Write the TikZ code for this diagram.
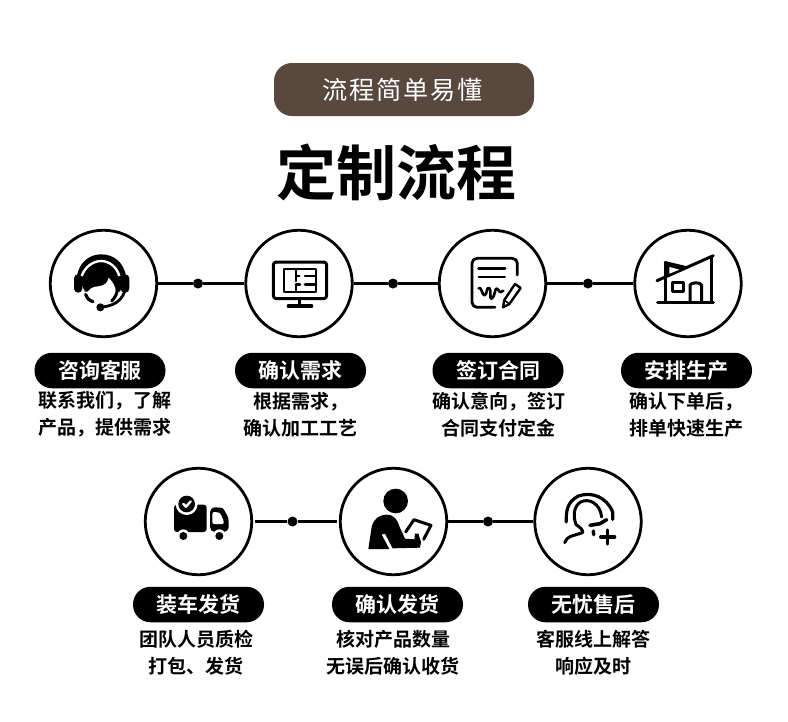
\documentclass[tikz,border=0pt]{standalone}
\usepackage{fontspec}
\newfontfamily\cjktitle{Noto Sans CJK SC Bold}
\newfontfamily\cjktop[LetterSpace=7]{Noto Sans CJK SC}
\newfontfamily\cjkbold{Noto Sans CJK SC Bold}
\tikzset{
  stepcircle/.style={circle,draw=black,line width=2.8pt,fill=white,minimum size=106.5pt,inner sep=0pt},
  linkdot/.style={circle,fill=black,minimum size=10pt,inner sep=0pt},
  linkline/.style={draw=black,line width=2.4pt},
  tagpill/.style={fill=black,text=white,rounded corners=17.5pt,minimum width=131pt,minimum height=35.5pt,inner sep=0pt,font=\cjkbold\fontsize{21}{21}\selectfont},
  bodytext/.style={text=black,align=center,inner sep=0pt,font=\cjkbold\fontsize{19}{27}\selectfont},
  iconz/.style={x=0.33333pt,y=-0.33333pt},
  ln/.style={draw=black,line cap=round,line join=round},
}
\begin{document}
\begin{tikzpicture}[x=1pt,y=-1pt]
\path[use as bounding box,fill=white] (0,0) rectangle (788,721);
% header
\node[fill={rgb,255:red,88;green,72;blue,62},rounded corners=18pt,minimum width=260pt,minimum height=53pt,inner sep=0pt,text=white,font=\cjktop\fontsize{25.2}{25}\selectfont] (hdr) at (404,89.5) {\hspace*{-3pt}流程简单易懂};
\node[inner sep=0pt,text=black,font=\cjktitle\fontsize{60}{60}\selectfont] (ttl) at (396.5,172) {定制流程};
% circles
\foreach \n/\x in {c1/103.5,c2/299,c3/492.5,c4/688} \node[stepcircle] (\n) at (\x,283.5) {};
\foreach \n/\x in {c5/198.5,c6/393.5,c7/588} \node[stepcircle] (\n) at (\x,521.5) {};
\foreach \n/\x/\y in {d1/198/283.5,d2/393/283.5,d3/588/283.5,d5/292.5/521.5,d6/488/521.5} \node[linkdot] (\n) at (\x,\y) {};
\draw[linkline] (c1) -- (d1) -- (c2) (c2) -- (d2) -- (c3) (c3) -- (d3) -- (c4) (d6) -- (c7);
\draw[linkline,shorten <=2pt] (c5) -- (d5);
\draw[linkline,shorten >=2pt] (d5) -- (c6);
\draw[linkline] (c6) -- (d6);
% tags
\foreach \n/\x/\y/\t in {t1/100/370.5/咨询客服,t2/300.5/370.5/确认需求,t3/498/370.5/签订合同,t4/686.5/370.5/安排生产,t5/198.5/604.5/装车发货,t6/397.5/604.5/确认发货,t7/593.5/604.5/无忧售后}
  \node[tagpill] (\n) at (\x,\y) {\t};
% body
\node[bodytext] (b1) at (104.5,414.5) {联系我们，了解\\产品，提供需求};
\node[bodytext] (b2) at (300.5,414.5) {根据需求，\\确认加工工艺};
\node[bodytext] (b3) at (498.5,414.5) {确认意向，签订\\合同支付定金};
\node[bodytext] (b4) at (686,414.5) {确认下单后，\\排单快速生产};
\node[bodytext] (b5) at (196,652.5) {团队人员质检\\打包、发货};
\node[bodytext] (b6) at (393,652.5) {核对产品数量\\无误后确认收货};
\node[bodytext] (b7) at (593,652.5) {客服线上解答\\响应及时};
% icon 1 headset
\begin{scope}[shift={(65,245)},iconz]
  \fill[black] (36,92) .. controls (43,52) and (73,28) .. (108,28) .. controls (147,28) and (175,52) .. (183,92) -- (165,140) -- (60,140) -- cycle;
  \fill[black,rounded corners=4pt] (27,88) rectangle (52,143);
  \fill[black,rounded corners=4pt] (167,88) rectangle (193,143);
  \draw[white,line width=2.4pt] (50,93) .. controls (60,65) and (85,48) .. (108,48) .. controls (132,48) and (155,65) .. (163,93);
  \fill[white] (64,152) .. controls (68,132) and (84,124) .. (100,124) .. controls (118,122) and (128,114) .. (131,98) .. controls (143,110) and (152,125) .. (153,142) -- (190,160) -- (190,205) -- (40,205) -- (40,152) -- cycle;
  \draw[ln,line width=3.2pt] (62,148) .. controls (66,160) and (72,166) .. (84,170);
  \draw[ln,line width=3pt] (158,125) .. controls (158,145) and (150,158) .. (140,168);
  \draw[ln,line width=2.8pt] (178,142) .. controls (168,168) and (145,184) .. (108,186);
  \fill[black] (106,187) circle[radius=12];
\end{scope}
% icon 2 monitor
\begin{scope}[shift={(40,220)},iconz]
  \draw[ln,line width=3pt,rounded corners=3pt] (700,126) rectangle (860,236);
  \draw[ln,line width=2.8pt] (779,236) -- (779,258);
  \draw[ln,line width=3.2pt] (745,258) -- (815,258);
  \draw[ln,line width=2.4pt] (732,147) rectangle (828,216);
  \draw[ln,line width=2.6pt] (768,147) -- (768,183) (768,198) -- (768,216) (768,168) -- (778,168) (795,168) -- (828,168) (795,193) -- (828,193) (768,193) -- (780,193);
\end{scope}
% icon 3 contract
\begin{scope}[shift={(400,220)},iconz]
  \draw[ln,line width=2.8pt,rounded corners=5pt] (352,165) -- (352,115) -- (216,115) -- (216,262) -- (285,262);
  \draw[ln,line width=3pt] (236,146) -- (315,146);
  \draw[ln,line width=2pt] (236,172) -- (315,172);
  \draw[ln,line width=2.6pt] (236,205) .. controls (244,195) and (246,228) .. (254,226) .. controls (262,224) and (258,200) .. (268,204) .. controls (276,208) and (266,242) .. (276,236) .. controls (286,228) and (284,200) .. (292,206) .. controls (298,212) and (298,222) .. (310,212);
  \draw[ln,line width=2.4pt] (309,262) -- (313,240) -- (345,192) -- (362,204) -- (328,252) -- cycle;
  \draw[ln,line width=1.6pt] (313,240) -- (328,252);
\end{scope}
% icon 4 house
\begin{scope}[shift={(400,220)},iconz]
  \draw[ln,line width=3.4pt] (773,247) -- (940,247);
  \draw[ln,line width=3pt] (771,182) -- (940,107);
  \draw[ln,line width=3pt] (933,112) -- (933,247);
  \draw[ln,line width=3pt] (795,127) -- (795,247);
  \draw[ln,line width=2.6pt] (795,127) -- (862,143);
  \fill[black] (795,127) -- (862,143) -- (795,170) -- cycle;
  \fill[white] (808,141) -- (838,149) -- (808,161) -- cycle;
  \draw[ln,line width=2.8pt] (818,188) rectangle (850,215);
  \draw[ln,line width=3pt] (870,247) -- (870,196) .. controls (870,186) and (905,186) .. (905,196) -- (905,247);
\end{scope}
% icon 5 truck
\begin{scope}[shift={(160,482)},iconz]
  \fill[black,rounded corners=3pt] (42,68) rectangle (140,150);
  \fill[black,rounded corners=5pt] (150,150) -- (150,76) -- (172,76) .. controls (190,78) and (205,105) .. (206,125) -- (206,150) -- cycle;
  \fill[white,rounded corners=2pt] (157,90) -- (172,90) .. controls (182,94) and (190,112) .. (192,126) -- (157,126) -- cycle;
  \fill[white] (80,66) circle[radius=33];
  \fill[black] (80,66) circle[radius=25];
  \draw[white,line width=2.4pt,line cap=round,line join=round] (70,66) -- (78,74) -- (92,58);
  \fill[white] (70,160) circle[radius=18];
  \fill[black] (70,162) circle[radius=12];
  \fill[white] (178,160) circle[radius=18];
  \fill[black] (178,162) circle[radius=12];
\end{scope}
% icon 6 person
\begin{scope}[shift={(355,482)},iconz]
  \fill[black] (122,57) circle[radius=37];
  \fill[black] (40,201) -- (50,135) .. controls (56,110) and (72,99) .. (95,98) .. controls (118,98) and (128,115) .. (134,135) -- (150,170) -- (178,172) -- (180,155) -- (190,155) -- (198,180) -- (195,197) -- (113,199) -- (90,155) -- (80,158) -- (103,201) -- cycle;
  \draw[ln,line width=3pt] (152,150) -- (177,113) -- (228,130) -- (206,172);
\end{scope}
% icon 7 service
\begin{scope}[shift={(550,482)},iconz]
  \draw[ln,line width=3.2pt] (49,120) .. controls (48,90) and (50,60) .. (85,42) .. controls (125,28) and (170,45) .. (188,90) -- (188,112);
  \draw[ln,line width=3pt] (78,128) .. controls (68,100) and (72,72) .. (92,60) .. controls (115,48) and (150,62) .. (155,105);
  \draw[ln,line width=3pt] (78,128) .. controls (90,135) and (100,145) .. (98,152) -- (62,163) .. controls (52,168) and (46,175) .. (44,182);
  \draw[ln,line width=3.6pt] (120,130) -- (150,125) -- (170,113);
  \draw[ln,line width=3.4pt] (130,147) -- (131,158);
  \draw[ln,line width=3.2pt] (152,165) -- (194,165) (173,144) -- (173,186);
\end{scope}
\end{tikzpicture}
\end{document}
